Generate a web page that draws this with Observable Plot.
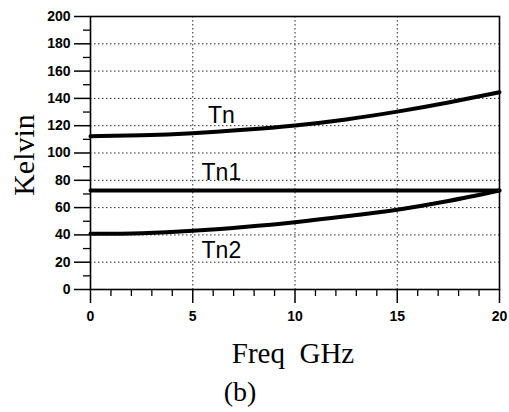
<!DOCTYPE html>
<html>
<head>
<meta charset="utf-8">
<script src="https://cdn.jsdelivr.net/npm/d3@7"></script>
<script src="https://cdn.jsdelivr.net/npm/@observablehq/plot@0.6"></script>
<style>
  html, body { margin: 0; padding: 0; background: #fff; }
  text { white-space: pre; }
</style>
</head>
<body>
<div id="chart"></div>
<script>
// Data
const freq = [0, 2.5, 5, 7.5, 10, 12.5, 15, 17.5, 20];
const tn  = [112.3, 113.0, 114.5, 117.0, 120.2, 124.6, 130.3, 137.0, 144.5];
const tn1 = [72.5, 72.5, 72.5, 72.5, 72.5, 72.5, 72.5, 72.5, 72.5];
const tn2 = [40.8, 41.3, 43.0, 45.8, 49.3, 53.6, 58.5, 64.8, 72.5];

const labelNames = ["Tn", "Tn1", "Tn2"];
const labelX = [6.4, 6.4, 6.4];
const labelY = [122, 80, 23];

const xMajor = [0, 5, 10, 15, 20];
const xMinor = [1, 2, 3, 4, 6, 7, 8, 9, 11, 12, 13, 14, 16, 17, 18, 19];
const yMajor = [0, 20, 40, 60, 80, 100, 120, 140, 160, 180, 200];
const yMinor = [10, 30, 50, 70, 90, 110, 130, 150, 170, 190];

const xTitle = "Freq  GHz";
const yTitle = "Kelvin";
const caption = "(b)";

const series = [
  ...freq.map((f, i) => ({f, v: tn[i], s: "Tn"})),
  ...freq.map((f, i) => ({f, v: tn1[i], s: "Tn1"})),
  ...freq.map((f, i) => ({f, v: tn2[i], s: "Tn2"}))
];
const labels = labelNames.map((n, i) => ({n, x: labelX[i], y: labelY[i]}));

const serif = "'Liberation Serif', 'Times New Roman', serif";
const sans = "'Liberation Sans', Arial, sans-serif";
const blank = () => "";

const chart = Plot.plot({
  width: 509,
  height: 412,
  marginLeft: 90,
  marginRight: 10,
  marginTop: 16,
  marginBottom: 123,
  style: {fontFamily: sans, fontSize: "14px", color: "black", background: "white"},
  x: {domain: [0, 20]},
  y: {domain: [0, 200]},
  marks: [
    Plot.gridX(xMajor, {stroke: "black", strokeOpacity: 0.85, strokeWidth: 1, strokeDasharray: "1.5,2.5"}),
    Plot.gridY(yMajor, {stroke: "black", strokeOpacity: 0.85, strokeWidth: 1, strokeDasharray: "1.5,2.5"}),
    Plot.axisX(xMinor, {tickSize: 7, tickFormat: blank, label: null, strokeWidth: 1.3}),
    Plot.axisX(xMajor, {tickSize: 14, tickPadding: 8, label: null, strokeWidth: 1.5, fontWeight: "bold", fontSize: 14}),
    Plot.axisY(yMinor, {tickSize: 7, tickFormat: blank, label: null, strokeWidth: 1.3}),
    Plot.axisY(yMajor, {tickSize: 16, tickPadding: 4, label: null, strokeWidth: 1.5, fontWeight: "bold", fontSize: 14}),
    Plot.frame({stroke: "black", strokeWidth: 1.6}),
    Plot.line(series, {x: "f", y: "v", z: "s", stroke: "black", strokeWidth: 4, curve: "natural"}),
    Plot.text(labels, {x: "x", y: "y", text: "n", textAnchor: "middle", lineAnchor: "bottom", fontSize: 23, fontFamily: sans, fill: "black"}),
    Plot.text([yTitle], {frameAnchor: "left", rotate: -90, dx: -66, dy: 2, fontSize: 30, fontFamily: serif, fill: "black", lineAnchor: "middle", textAnchor: "middle"}),
    Plot.text([xTitle], {frameAnchor: "bottom", dx: -2, dy: 73, fontSize: 29, fontFamily: serif, fill: "black", lineAnchor: "bottom", textAnchor: "middle"}),
    Plot.text([caption], {frameAnchor: "bottom", dx: -55, dy: 111, fontSize: 28, fontFamily: serif, fill: "black", lineAnchor: "bottom", textAnchor: "middle"})
  ]
});
document.getElementById("chart").appendChild(chart);
</script>
</body>
</html>
